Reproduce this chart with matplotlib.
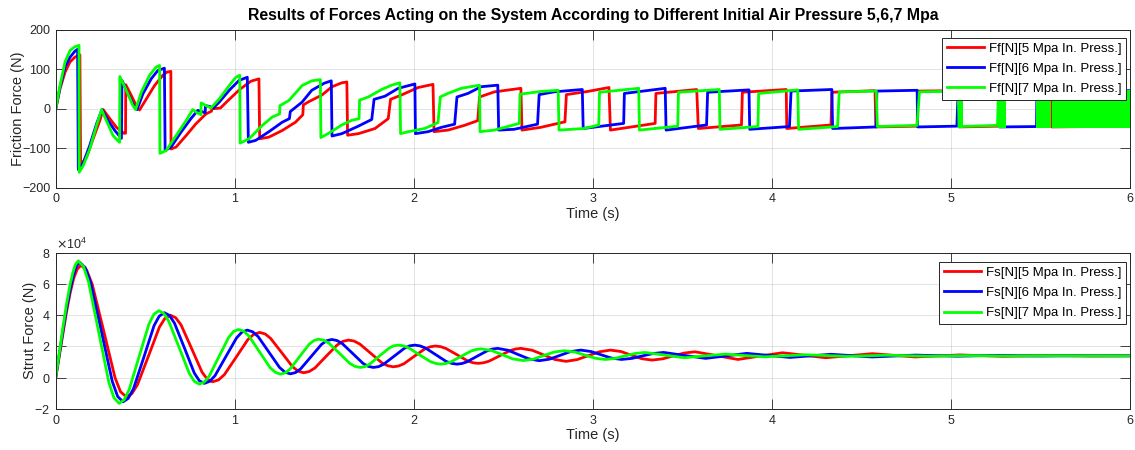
import matplotlib
matplotlib.use("Agg")
import matplotlib.pyplot as plt
from matplotlib.ticker import ScalarFormatter
import numpy as np

plt.rcParams['font.family'] = ['Liberation Sans', 'DejaVu Sans']

# ---- friction force (N) ----
ff5_t = [0, 0.024, 0.052, 0.08, 0.107, 0.135,
         0.139, 0.172, 0.209, 0.246, 0.265,
         0.302, 0.339, 0.38, 0.39,
         0.391, 0.422, 0.454, 0.468,
         0.506, 0.552, 0.598, 0.62, 0.643,
         0.644, 0.672, 0.728, 0.783, 0.839,
         0.87, 0.872, 0.92,
         0.96, 1.03, 1.09, 1.135,
         1.139, 1.19, 1.265, 1.339, 1.38,
         1.383, 1.413, 1.487, 1.543, 1.598, 1.626,
         1.63, 1.691, 1.783, 1.857,
         1.87, 1.931, 2.024, 2.107,
         2.113, 2.191, 2.283, 2.357,
         2.367, 2.45, 2.598,
         2.604, 2.709, 2.844,
         2.852, 2.97, 3.09,
         3.098, 3.348,
         3.352, 3.58,
         3.589, 3.83,
         3.835, 4.08,
         4.083, 4.33,
         4.335, 4.576,
         4.58, 4.811,
         4.815, 5.04,
         5.045, 5.265,
         5.27, 5.56,
         5.562, 6.0]
ff5_v = [0, 51, 93, 119, 131, 137,
         -142, -123, -76, -30, -2,
         -25, -47, -62, -62,
         61, 34, 4, -3,
         25, 59, 85, 93, 95,
         -102, -97, -68, -38, -13,
         -6, 0, 2,
         20, 50, 70, 76,
         -76, -72, -55, -34, -15,
         10, 18, 35, 56, 66, 68,
         -67, -63, -50, -25,
         24, 35, 54, 62,
         -58, -54, -42, -30,
         30, 43, 52,
         -54, -47, -33,
         36, 44, 54,
         -54, -37,
         39, 49,
         -50, -41,
         42, 49,
         -50, -41,
         42, 46,
         -46, -44,
         45, 46,
         -46, -44,
         45, 46,
         -46, -44]

ff6_t = [0, 0.024, 0.052, 0.08, 0.107, 0.122,
         0.126, 0.154, 0.19, 0.228, 0.259,
         0.293, 0.33, 0.367,
         0.37, 0.404, 0.441, 0.454,
         0.487, 0.533, 0.57, 0.607,
         0.611, 0.644, 0.70, 0.755, 0.793,
         0.835, 0.836, 0.86, 0.88,
         0.913, 0.969, 1.024, 1.07,
         1.076, 1.117, 1.191, 1.265, 1.305,
         1.31, 1.376, 1.43, 1.50, 1.539,
         1.543, 1.598, 1.69, 1.765,
         1.778, 1.839, 1.913, 2.006,
         2.009, 2.08, 2.154, 2.228,
         2.241, 2.302, 2.376, 2.469,
         2.474, 2.56, 2.691,
         2.70, 2.783, 2.941,
         2.946, 3.172,
         3.176, 3.404,
         3.409, 3.635,
         3.641, 3.872,
         3.876, 4.098,
         4.107, 4.335,
         4.339, 4.583,
         4.586, 4.811,
         4.814, 5.033,
         5.04, 5.265,
         5.27, 5.478,
         5.48, 6.0]
ff6_v = [0, 55, 106, 131, 146, 151,
         -154, -137, -93, -38, -2,
         -30, -55, -75,
         72, 38, 4, -2,
         38, 76, 97, 103,
         -106, -97, -59, -25, -4,
         -10, 8, 6, 2,
         17, 47, 72, 80,
         -85, -80, -58, -34, -25,
         -7, 17, 47, 65, 71,
         -69, -63, -44, -27,
         24, 32, 52, 63,
         -63, -58, -47, -39,
         30, 39, 56, 60,
         -54, -52, -39,
         36, 43, 49,
         -50, -37,
         39, 52,
         -54, -41,
         42, 48,
         -52, -45,
         45, 49,
         -50, -46,
         45, 47,
         -46, -44,
         45, 46,
         -46, -45,
         45, 46]

ff7_t = [0, 0.024, 0.052, 0.08, 0.105, 0.13,
         0.131, 0.154, 0.19, 0.228, 0.256,
         0.283, 0.32, 0.345, 0.357,
         0.358, 0.394, 0.431, 0.446,
         0.478, 0.524, 0.561, 0.58,
         0.582, 0.617, 0.672, 0.728, 0.765,
         0.79, 0.811, 0.812, 0.84, 0.867,
         0.913, 0.969, 1.006, 1.028,
         1.03, 1.08, 1.154, 1.209, 1.25,
         1.252, 1.302, 1.376, 1.43, 1.478,
         1.481, 1.524, 1.598, 1.654, 1.694,
         1.697, 1.746, 1.82, 1.876, 1.922,
         1.926, 1.97, 2.06, 2.135,
         2.148, 2.19, 2.265, 2.367,
         2.37, 2.45, 2.589,
         2.593, 2.71, 2.806,
         2.811, 2.95, 3.033,
         3.037, 3.256,
         3.26, 3.474,
         3.478, 3.706,
         3.71, 3.922,
         3.926, 4.144,
         4.149, 4.367,
         4.376, 4.583,
         4.589, 4.811,
         4.824, 5.04,
         5.045, 5.26,
         5.265, 5.477]
ff7_v = [0, 59, 119, 148, 157, 161,
         -161, -144, -102, -42, -2,
         -30, -68, -80, -85,
         82, 47, 8, -2,
         42, 85, 106, 110,
         -113, -106, -68, -30, -2,
         -10, -15, 15, 8, 2,
         25, 59, 80, 85,
         -87, -76, -42, -21, -13,
         8, 21, 59, 71, 74,
         -73, -62, -41, -29, -25,
         22, 30, 49, 60, 66,
         -63, -58, -50, -35,
         30, 39, 52, 60,
         -58, -54, -37,
         37, 44, 47,
         -54, -50, -41,
         42, 52,
         -54, -44,
         42, 49,
         -52, -45,
         39, 48,
         -52, -45,
         43, 45,
         -45, -42,
         43, 45,
         -45, -42,
         45, 46]

# stretches where the 7 MPa friction chatters between its two levels
chatter_start = [5.04, 5.26, 5.477, 5.565]
chatter_end = [5.065, 5.31, 5.557, 6.0]
chatter_hi = 48
chatter_lo = -49

# ---- strut force (x1e4 N) ----
fs5_t = [0, 0.02, 0.04, 0.06, 0.08, 0.1, 0.12, 0.141,
         0.173, 0.204, 0.268, 0.331, 0.362, 0.394,
         0.425, 0.456, 0.518, 0.579, 0.610, 0.641,
         0.670, 0.70, 0.759, 0.817, 0.847, 0.876,
         0.909, 0.942, 1.008, 1.073, 1.106, 1.139,
         1.17, 1.2, 1.262, 1.323, 1.354, 1.385,
         1.416, 1.448, 1.51, 1.572, 1.604, 1.635,
         1.666, 1.698, 1.76, 1.822, 1.854, 1.885,
         1.914, 1.944, 2.002, 2.061, 2.091, 2.12,
         2.15, 2.18, 2.24, 2.30, 2.33, 2.36,
         2.39, 2.42, 2.479, 2.538, 2.568, 2.598,
         2.661, 2.724, 2.787, 2.85,
         2.912, 2.974, 3.036, 3.098,
         3.156, 3.214, 3.272, 3.33,
         3.39, 3.45, 3.51, 3.57,
         3.69, 3.81, 3.935, 4.06,
         4.30, 4.56, 4.80, 5.05, 5.29, 5.54, 5.78, 6.0]
fs5_v = [0, 1.4, 2.8, 4.2, 5.4, 6.35, 6.95, 7.2,
         6.88, 5.97, 2.99, 0.01, -0.90, -1.22,
         -1.02, -0.46, 1.39, 3.24, 3.80, 4.0,
         3.84, 3.38, 1.87, 0.36, -0.10, -0.26,
         -0.14, 0.20, 1.32, 2.44, 2.78, 2.9,
         2.80, 2.52, 1.61, 0.70, 0.42, 0.32,
         0.40, 0.63, 1.37, 2.10, 2.33, 2.41,
         2.35, 2.16, 1.56, 0.95, 0.77, 0.70,
         0.75, 0.89, 1.37, 1.84, 1.98, 2.03,
         1.99, 1.87, 1.48, 1.08, 0.96, 0.92,
         0.96, 1.06, 1.40, 1.74, 1.84, 1.88,
         1.76, 1.47, 1.17, 1.05,
         1.16, 1.41, 1.66, 1.77,
         1.68, 1.45, 1.22, 1.13,
         1.21, 1.40, 1.58, 1.66,
         1.42, 1.17, 1.39, 1.60,
         1.28, 1.54, 1.33, 1.46, 1.37, 1.43, 1.39, 1.41]

fs6_t = [0, 0.02, 0.04, 0.06, 0.08, 0.1, 0.118, 0.135,
         0.165, 0.195, 0.256, 0.316, 0.346, 0.376,
         0.405, 0.434, 0.492, 0.549, 0.578, 0.607,
         0.635, 0.663, 0.719, 0.774, 0.802, 0.83,
         0.86, 0.89, 0.95, 1.01, 1.04, 1.07,
         1.10, 1.13, 1.19, 1.25, 1.28, 1.31,
         1.339, 1.368, 1.426, 1.484, 1.513, 1.542,
         1.571, 1.6, 1.658, 1.716, 1.745, 1.774,
         1.803, 1.832, 1.89, 1.947, 1.976, 2.005,
         2.034, 2.064, 2.122, 2.18, 2.211, 2.24,
         2.2685, 2.297, 2.354, 2.411, 2.4395, 2.468,
         2.526, 2.584, 2.642, 2.70,
         2.758, 2.816, 2.874, 2.932,
         2.989, 3.046, 3.103, 3.16,
         3.219, 3.278, 3.336, 3.395,
         3.51, 3.63, 3.745, 3.86,
         4.10, 4.33, 4.56, 4.80, 5.03, 5.26, 5.50, 5.73, 6.0]
fs6_v = [0, 1.5, 3.0, 4.4, 5.6, 6.6, 7.2, 7.38,
         7.04, 6.08, 2.92, -0.24, -1.20, -1.54,
         -1.32, -0.71, 1.31, 3.33, 3.94, 4.16,
         3.99, 3.50, 1.90, 0.30, -0.19, -0.36,
         -0.23, 0.14, 1.35, 2.55, 2.92, 3.05,
         2.94, 2.64, 1.65, 0.66, 0.36, 0.25,
         0.33, 0.57, 1.35, 2.13, 2.37, 2.45,
         2.38, 2.19, 1.56, 0.92, 0.73, 0.66,
         0.71, 0.87, 1.38, 1.88, 2.04, 2.09,
         2.04, 1.91, 1.48, 1.05, 0.92, 0.87,
         0.91, 1.02, 1.38, 1.73, 1.84, 1.88,
         1.76, 1.48, 1.21, 1.09,
         1.19, 1.43, 1.67, 1.77,
         1.68, 1.47, 1.26, 1.17,
         1.24, 1.40, 1.55, 1.62,
         1.43, 1.24, 1.40, 1.56,
         1.30, 1.50, 1.33, 1.45, 1.38, 1.43, 1.39, 1.41, 1.40]

fs7_t = [0, 0.02, 0.04, 0.06, 0.08, 0.095, 0.11, 0.126,
         0.1545, 0.183, 0.24, 0.297, 0.3255, 0.354,
         0.382, 0.41, 0.465, 0.52, 0.548, 0.576,
         0.604, 0.632, 0.689, 0.746, 0.774, 0.802,
         0.829, 0.857, 0.911, 0.966, 0.993, 1.02,
         1.05, 1.079, 1.138, 1.197, 1.227, 1.256,
         1.283, 1.309, 1.362, 1.415, 1.442, 1.468,
         1.497, 1.526, 1.584, 1.642, 1.671, 1.70,
         1.727, 1.753, 1.807, 1.86, 1.886, 1.913,
         1.943, 1.972, 2.03, 2.09, 2.12, 2.15,
         2.178, 2.206, 2.263, 2.32, 2.348, 2.376,
         2.4345, 2.493, 2.5515, 2.61,
         2.6675, 2.725, 2.7825, 2.84,
         2.8975, 2.955, 3.0125, 3.07,
         3.125, 3.18, 3.235, 3.29,
         3.40, 3.51, 3.625, 3.74, 3.85, 3.96,
         4.19, 4.42, 4.64, 4.87, 5.09, 5.32, 5.54, 5.77, 6.0]
fs7_v = [0, 1.6, 3.2, 4.7, 5.95, 6.7, 7.25, 7.48,
         7.13, 6.15, 2.92, -0.31, -1.29, -1.64,
         -1.41, -0.77, 1.33, 3.42, 4.06, 4.29,
         4.11, 3.60, 1.94, 0.28, -0.23, -0.41,
         -0.28, 0.10, 1.34, 2.58, 2.96, 3.09,
         2.98, 2.67, 1.66, 0.65, 0.34, 0.23,
         0.32, 0.56, 1.35, 2.14, 2.38, 2.47,
         2.40, 2.21, 1.57, 0.92, 0.73, 0.66,
         0.71, 0.87, 1.38, 1.88, 2.04, 2.09,
         2.04, 1.91, 1.48, 1.05, 0.92, 0.87,
         0.91, 1.01, 1.36, 1.71, 1.81, 1.85,
         1.74, 1.48, 1.21, 1.10,
         1.19, 1.42, 1.64, 1.73,
         1.65, 1.45, 1.25, 1.17,
         1.24, 1.40, 1.55, 1.62,
         1.45, 1.28, 1.40, 1.51, 1.42, 1.34,
         1.47, 1.37, 1.44, 1.38, 1.42, 1.39, 1.41, 1.40, 1.40]

pressures = [5, 6, 7]
colors = ['#ff0000', '#0000ff', '#00ff00']

fig = plt.figure(figsize=(11.35, 4.5), dpi=100)
ax1 = fig.add_axes([0.0491, 0.583, 0.9465, 0.3504])
ax2 = fig.add_axes([0.0491, 0.0911, 0.9465, 0.3473])

# upper panel
for t, v, p, c in zip([ff5_t, ff6_t, ff7_t], [ff5_v, ff6_v, ff7_v], pressures, colors):
    ax1.plot(t, v, color=c, lw=2, label=f'Ff[N][{p} Mpa In. Press.]')
for s, e in zip(chatter_start, chatter_end):
    ax1.fill_between([s, e], chatter_lo, chatter_hi, color=colors[2], lw=0, zorder=3)

# lower panel
for t, v, p, c in zip([fs5_t, fs6_t, fs7_t], [fs5_v, fs6_v, fs7_v], pressures, colors):
    ax2.plot(t, np.array(v) * 1e4, color=c, lw=2, label=f'Fs[N][{p} Mpa In. Press.]')

edge = '#262626'
for ax in (ax1, ax2):
    ax.set_xlim(0, 6)
    ax.set_xticks(range(7))
    ax.grid(True, color=edge, alpha=0.15, lw=0.6)
    ax.tick_params(direction='in', length=7, width=0.6, top=True, right=True,
                   labelsize=9, color=edge, labelcolor=edge, pad=4)
    for sp in ax.spines.values():
        sp.set_color(edge)
        sp.set_linewidth(0.7)
    ax.set_xlabel('Time (s)', fontsize=10.5, color=edge, labelpad=1)

ax1.set_ylim(-200, 200)
ax1.set_yticks([-200, -100, 0, 100, 200])
ax1.set_ylabel('Friction Force (N)', fontsize=10.5, color=edge, labelpad=-2)
ax1.set_title('Results of Forces Acting on the System According to Different Initial Air Pressure 5,6,7 Mpa',
              fontsize=11.4, fontweight='bold', pad=7)

ax2.set_ylim(-2e4, 8e4)
ax2.set_yticks([-2e4, 0, 2e4, 4e4, 6e4, 8e4])
fmt = ScalarFormatter(useMathText=True)
fmt.set_powerlimits((0, 0))
ax2.yaxis.set_major_formatter(fmt)
ax2.yaxis.get_offset_text().set_fontsize(9)
ax2.yaxis.get_offset_text().set_color(edge)
ax2.set_ylabel('Strut Force (N)', fontsize=10.5, color=edge, labelpad=-2)

leg_kw = dict(loc='upper right', fontsize=9.5, fancybox=False, framealpha=1,
              edgecolor=edge, handlelength=2.8, labelspacing=0.6, borderaxespad=0,
              borderpad=0.35, handletextpad=0.4)
l1 = ax1.legend(bbox_to_anchor=(0.9965, 0.95), **leg_kw)
l2 = ax2.legend(bbox_to_anchor=(0.9965, 0.94), **leg_kw)
for leg in (l1, l2):
    leg.get_frame().set_linewidth(0.7)

fig.savefig('out.png', dpi=100)
